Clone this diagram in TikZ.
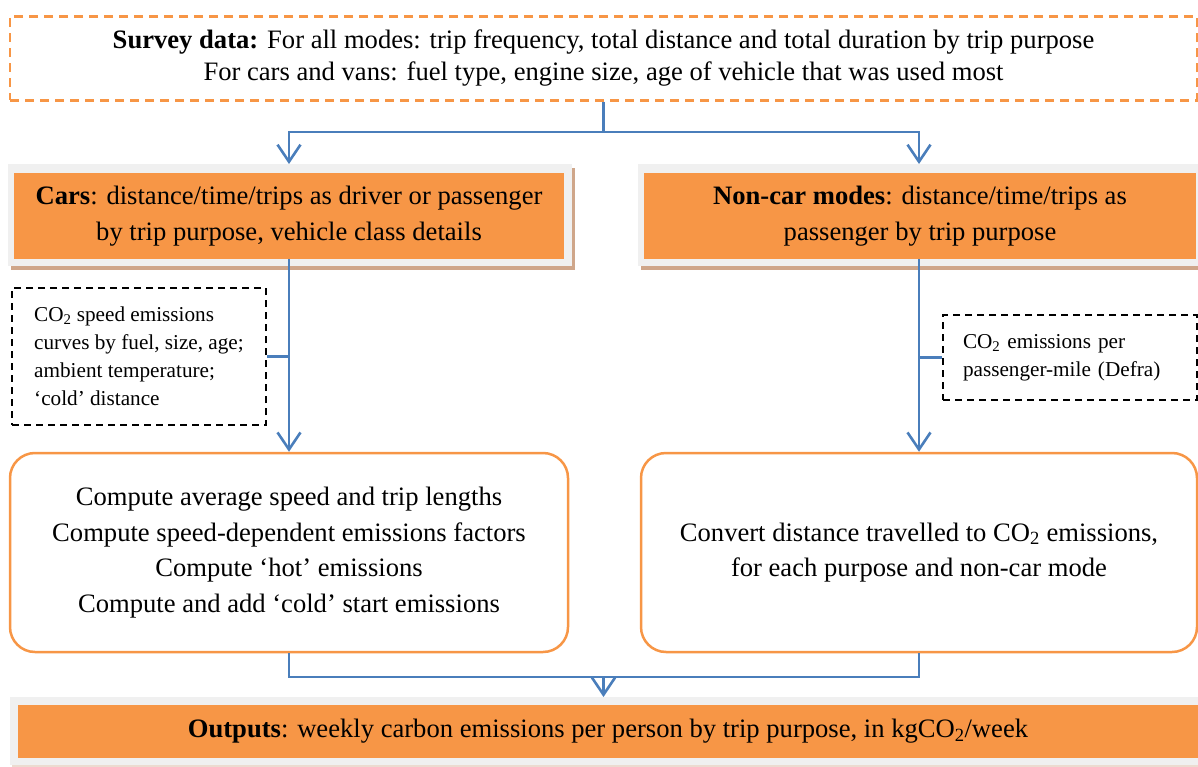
\documentclass[tikz,border=0pt]{standalone}
\usepackage{fontspec}
\setmainfont{Liberation Serif}
\usetikzlibrary{arrows.meta,calc}
\definecolor{orng}{HTML}{F79646}
\definecolor{bluec}{HTML}{4A7EBB}
\definecolor{framec}{HTML}{F0F0F0}
\definecolor{shadc}{HTML}{CFA68A}
\tikzset{
  big/.style={font=\fontsize{26.6}{35.5}\selectfont},
  small/.style={font=\fontsize{21.2}{28}\selectfont},
  surveybox/.style={draw=orng, line width=2.5pt, dash pattern=on 9pt off 6pt, minimum width=1187pt, minimum height=84pt, inner sep=0pt, font=\fontsize{26.6}{32}\selectfont, align=center},
  orbox/.style={fill=orng, inner sep=0pt, big, align=center},
  dbox/.style={draw=black, line width=2.3pt, dash pattern=on 7pt off 5pt, inner ysep=0pt, small, align=left, anchor=center},
  rbox/.style={draw=orng, line width=2.5pt, rounded corners=25pt, minimum height=199pt, inner sep=0pt, big, align=center},
  conn/.style={draw=bluec, line width=2.6pt},
  arr/.style={conn, -{Straight Barb[length=17pt,width=23pt,line width=2.6pt]}}
}
\begin{document}
\begin{tikzpicture}[x=1pt,y=-1pt]
\useasboundingbox (0,0) rectangle (1198,767);
% frames and shadows
\fill[shadc] (11,168) rectangle (575,270);
\fill[framec] (8,164) rectangle (572,266);
\fill[shadc] (641,168) rectangle (1201,270);
\fill[framec] (638,164) rectangle (1198,266);
\fill[shadc!40] (12,700) rectangle (1198,767);
\fill[framec] (10,697) rectangle (1198,765);

\node[surveybox] (survey) at (603.5,58.5) {\textbf{Survey data:} For all modes: trip frequency, total distance and total duration by trip purpose\\For cars and vans: fuel type, engine size, age of vehicle that was used most};

\node[orbox, minimum width=550pt, minimum height=86pt] (cars) at (289,216) {\textbf{Cars}: distance/time/trips as driver or passenger\\by trip purpose, vehicle class details};
\node[orbox, minimum width=552pt, minimum height=86pt] (noncar) at (920,216) {\textbf{Non-car modes}: distance/time/trips as\\passenger by trip purpose};

\node[dbox, minimum width=254pt, minimum height=137pt] (curves) at (139,356.5) {CO\textsubscript{2} speed emissions\\curves by fuel, size, age;\\ambient temperature;\\`cold' distance};
\node[dbox, text width=214pt, inner xsep=20pt, minimum height=85pt] (defra) at (1070,357.5) {CO\textsubscript{2} emissions per\\passenger-mile (Defra)};

\node[rbox, minimum width=558pt] (compute) at (289,552.5) {Compute average speed and trip lengths\\Compute speed-dependent emissions factors\\Compute `hot' emissions\\Compute and add `cold' start emissions};
\node[rbox, minimum width=556pt] (convert) at (919,552.5) {Convert distance travelled to CO\textsubscript{2} emissions,\\for each purpose and non-car mode};

\node[orbox, minimum width=1180pt, minimum height=53pt] (outputs) at (608,731.5) {\textbf{Outputs}: weekly carbon emissions per person by trip purpose, in kgCO\textsubscript{2}/week};

% connectors
\coordinate (split) at (603.5,132);
\coordinate (join) at (603.5,677);
\draw[conn] (survey.south) -- (split);
\draw[arr] (split) -| (289,164);
\draw[arr] (split) -| (919,164);
\draw[arr] (cars.south) -- (compute.north);
\draw[arr] (noncar.south -| convert.north) -- (convert.north);
\draw[conn] (curves.east) -- (curves.east -| compute.north);
\draw[conn] (defra.west) -- (defra.west -| convert.north);
\draw[conn] (compute.south) |- (join);
\draw[conn] (convert.south) |- (join);
\draw[arr] (join) -- (603.5,697);
\end{tikzpicture}
\end{document}
